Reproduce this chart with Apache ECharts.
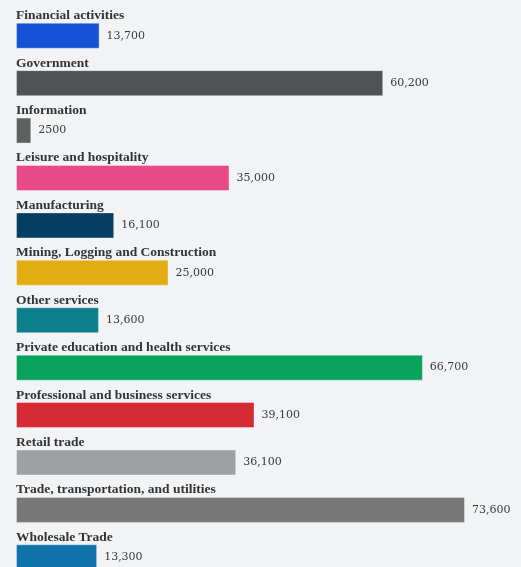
<!DOCTYPE html>
<html>
<head>
<meta charset="utf-8">
<script src="https://cdn.jsdelivr.net/npm/echarts@6/dist/echarts.min.js"></script>
<style>
  html, body { margin: 0; padding: 0; background: #f2f3f5; }
  #chart { width: 521px; height: 567px; }
</style>
</head>
<body>
<div id="chart"></div>
<script>
// Employment by industry sector
const sectors = [
  'Financial activities',
  'Government',
  'Information',
  'Leisure and hospitality',
  'Manufacturing',
  'Mining, Logging and Construction',
  'Other services',
  'Private education and health services',
  'Professional and business services',
  'Retail trade',
  'Trade, transportation, and utilities',
  'Wholesale Trade'
];
const jobs = [13700, 60200, 2500, 35000, 16100, 25000, 13600, 66700, 39100, 36100, 73600, 13300];
const sectorColors = [
  '#1553d6', '#4f5356', '#5f6161', '#e84a85', '#053e63', '#e3ad12',
  '#0b7f8b', '#08a25d', '#d52a34', '#9ea1a4', '#777777', '#0e74ab'
];

function formatJobs(v) {
  // four-digit values are printed without a separator
  return v < 10000 ? String(v) : v.toLocaleString('en-US');
}

const chart = echarts.init(document.getElementById('chart'), null, { renderer: 'canvas' });
chart.setOption({
  backgroundColor: '#f2f3f5',
  animation: false,
  grid: { left: 16, top: 12, width: 488, height: 569, outerBoundsMode: 'none', containLabel: false },
  xAxis: {
    type: 'value', min: 0, max: 80000,
    show: false
  },
  yAxis: {
    type: 'category',
    data: sectors,
    inverse: true,
    axisLine: { show: false },
    axisTick: { show: false },
    axisLabel: {
      inside: true,
      margin: 0,
      align: 'left',
      verticalAlign: 'bottom',
      padding: [0, 0, 13, 0],
      fontFamily: 'Liberation Serif',
      fontWeight: 'bold',
      fontSize: 13.5,
      color: '#333333'
    }
  },
  series: [{
    type: 'bar',
    barWidth: 26,
    data: jobs.map((v, i) => ({
      value: v,
      itemStyle: { color: sectorColors[i] }
    })),
    itemStyle: { borderColor: 'rgba(255,255,255,0.35)', borderWidth: 1 },
    label: {
      show: true,
      position: 'right',
      distance: 7,
      fontFamily: 'DejaVu Serif',
      fontSize: 11,
      color: '#3a3a3a',
      formatter: p => formatJobs(p.value)
    }
  }]
});
</script>
</body>
</html>
